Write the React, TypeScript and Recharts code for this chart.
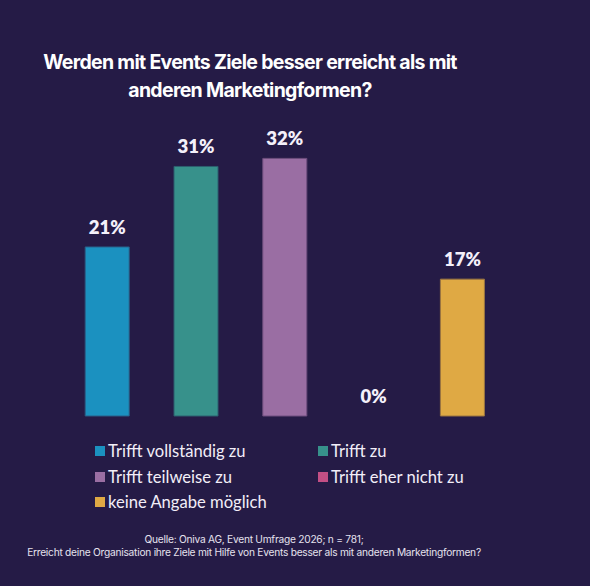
import { Bar, BarChart, Cell, LabelList, XAxis, YAxis } from "recharts"

const categories = [
  "Trifft vollständig zu",
  "Trifft zu",
  "Trifft teilweise zu",
  "Trifft eher nicht zu",
  "keine Angabe möglich",
]
const shares = [21, 31, 32, 0, 17]
const colors = ["#1b91c0", "#37918b", "#9a6ea3", "#c34f85", "#dfa944"]
const borders = ["#2a5d86", "#2d5f6f", "#6e4f7e", "#8a3d66", "#9b7540"]

const data = categories.map((name, i) => ({ name, value: shares[i], label: `${shares[i]}%` }))

const bg = "#251b46"

function LegendGrid() {
  return (
    <div
      style={{
        position: "absolute",
        left: 95,
        top: 441,
        display: "grid",
        gridTemplateColumns: "223px 200px",
        rowGap: 5.5,
        fontFamily: "Lato, sans-serif",
        fontSize: 16.6,
        color: "#f2eef8",
      }}
    >
      {categories.map((c, i) => (
        <div key={c} style={{ display: "flex", alignItems: "center", height: 20 }}>
          <span style={{ width: 10, height: 10, background: colors[i], marginRight: 3, display: "inline-block" }} />
          {c}
        </div>
      ))}
    </div>
  )
}

export default function App() {
  return (
    <div style={{ position: "absolute", left: 0, top: 0, width: 590, height: 586, background: bg, overflow: "hidden" }}>
      <div
        style={{
          position: "absolute",
          left: 0,
          top: 48,
          width: 500,
          textAlign: "center",
          fontFamily: "Inter, sans-serif",
          fontWeight: 700,
          fontSize: 19.5,
          lineHeight: "28px",
          letterSpacing: -0.7,
          color: "#ffffff",
        }}
      >
        Werden mit Events Ziele besser erreicht als mit
        <br />
        anderen Marketingformen?
      </div>
      <div style={{ position: "absolute", left: 0, top: 0 }}>
        <BarChart width={570} height={420} data={data} margin={{ top: 94, right: 63, bottom: 4, left: 63 }} barCategoryGap="25%">
          <XAxis dataKey="name" hide />
          <YAxis hide domain={[0, 40]} />
          <Bar dataKey="value" isAnimationActive={false} strokeWidth={1} minPointSize={(v: any) => (v === 0 ? 0.1 : 0)}>
            {data.map((d, i) => (
              <Cell key={d.name} fill={d.value === 0 ? "none" : colors[i]} stroke={d.value === 0 ? "none" : borders[i]} />
            ))}
            <LabelList
              dataKey="label"
              position="top"
              offset={13}
              style={{ fill: "#f4f0fa", fontFamily: "Lato, sans-serif", fontWeight: 800, fontSize: 18.5 }}
            />
          </Bar>
        </BarChart>
      </div>
      <LegendGrid />
      <div
        style={{
          position: "absolute",
          left: 0,
          top: 533,
          width: 508,
          textAlign: "center",
          fontFamily: "Inter, sans-serif",
          fontSize: 10.2,
          lineHeight: "13px",
          letterSpacing: -0.25,
          color: "#e6e2ee",
        }}
      >
        Quelle: Oniva AG, Event Umfrage 2026; n = 781;
        <br />
        Erreicht deine Organisation ihre Ziele mit Hilfe von Events besser als mit anderen Marketingformen?
      </div>
    </div>
  )
}
